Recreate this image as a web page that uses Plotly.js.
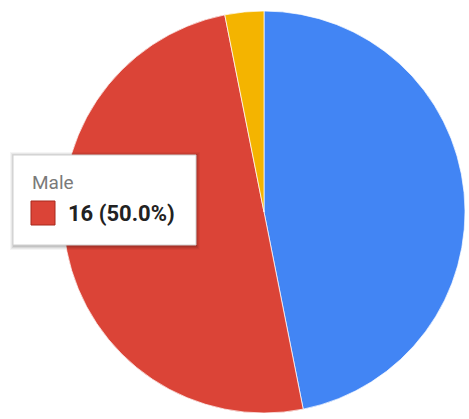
<!DOCTYPE html>
<html>
<head>
<meta charset="utf-8">
<script src="https://cdn.plot.ly/plotly-3.0.1.min.js"></script>
<style>html,body{margin:0;padding:0;background:#fff;}#chart{width:469px;height:419px;}</style>
</head>
<body>
<div id="chart"></div>
<script>
const labels = ['Female', 'Male', 'Other'];
const values = [15, 16, 1];
const colors = ['#4285F4', '#DB4437', '#F4B400'];
const tipLabel = 'Male';
const tipValue = '16 (50.0%)';

const W = 469, H = 419;
const px = x => x / W;
const py = y => 1 - y / H;

const trace = {
  type: 'pie',
  labels: labels,
  values: values,
  sort: false,
  direction: 'clockwise',
  rotation: 0,
  textinfo: 'none',
  hoverinfo: 'none',
  marker: {colors: colors, line: {color: 'rgba(255,255,255,0.7)', width: 1}},
  domain: {x: [px(63), px(465)], y: [py(413), py(11)]}
};

const shapes = [];
// tooltip shadow
[[4,'rgba(0,0,0,0.04)'],[3,'rgba(0,0,0,0.05)'],[2,'rgba(0,0,0,0.07)'],[1,'rgba(0,0,0,0.09)']].forEach(([d,c]) => {
  shapes.push({type:'rect', xref:'paper', yref:'paper', layer:'above',
    x0: px(13-d+1), x1: px(196+d), y0: py(245+d+1), y1: py(155-d+1),
    fillcolor: c, line: {width: 0}});
});
shapes.push({type:'rect', xref:'paper', yref:'paper', layer:'above',
  x0: px(13), x1: px(196), y0: py(245), y1: py(155),
  fillcolor: '#ffffff', line: {color: '#d0d0d0', width: 1}});
shapes.push({type:'rect', xref:'paper', yref:'paper', layer:'above',
  x0: px(31), x1: px(55), y0: py(225), y1: py(201),
  fillcolor: colors[1], line: {color: '#a8281c', width: 1}});

const annotations = [
  {xref:'paper', yref:'paper', x: px(30), y: py(182), xanchor:'left', yanchor:'middle',
   text: tipLabel, showarrow:false, font:{family:'Roboto', size:19, color:'#7a7a7a'}},
  {xref:'paper', yref:'paper', x: px(66), y: py(214), xanchor:'left', yanchor:'middle',
   text: '<b>' + tipValue + '</b>', showarrow:false, font:{family:'Roboto', size:22, color:'#222222'}}
];

const layout = {
  width: W, height: H,
  margin: {l:0, r:0, t:0, b:0},
  showlegend: false,
  paper_bgcolor: '#ffffff',
  shapes: shapes,
  annotations: annotations
};

Plotly.newPlot('chart', [trace], layout, {displayModeBar: false, staticPlot: true});
</script>
</body>
</html>
